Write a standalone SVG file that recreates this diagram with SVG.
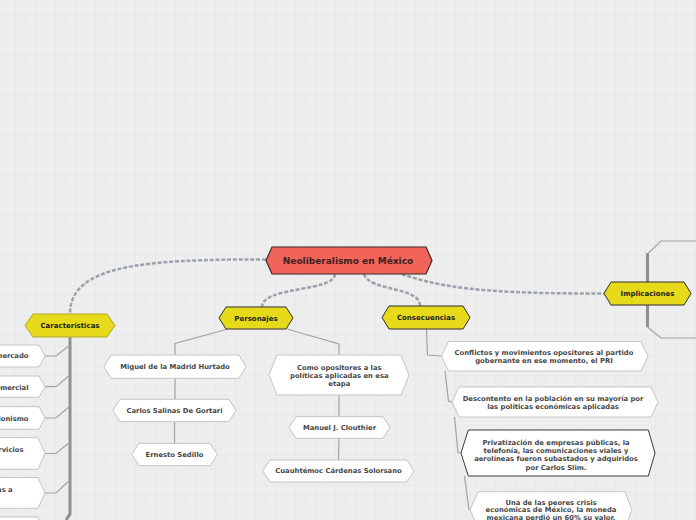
<svg xmlns="http://www.w3.org/2000/svg" width="696" height="520" viewBox="0 0 696 520">
<defs>
<pattern id="grid" width="10" height="10" patternUnits="userSpaceOnUse" x="5" y="5">
<path d="M0,0 H10 M0,0 V10" fill="none" stroke="#e3e3e3" stroke-width="1"/>
</pattern>
</defs>
<style>
text{font-family:"DejaVu Sans","Verdana",sans-serif;font-weight:bold;}
.t{font-size:6.8px;fill:#474747;text-anchor:middle;}
.te{font-size:6.8px;fill:#474747;text-anchor:end;}
.h{font-size:7px;fill:#1e1e1e;text-anchor:middle;}
.w{fill:#ffffff;stroke:#c4c4c4;stroke-width:1;}
.wd{fill:#ffffff;stroke:#3a3a3a;stroke-width:1;}
.y{fill:#e6da1b;stroke:#2e2e2e;stroke-width:1;}
.yl{fill:#e6da1b;stroke:#b3aa22;stroke-width:1;}
.dash{fill:none;stroke:#9aa2ab;stroke-width:2.5;stroke-dasharray:4 1.8;}
.trunk{fill:none;stroke:#8f8f8f;stroke-width:3;}
.thin{fill:none;stroke:#a3a3a3;stroke-width:1.2;}
</style>
<rect width="696" height="520" fill="#eeeeee"/>
<rect width="696" height="520" fill="url(#grid)"/>

<g id="connectors">
<path class="dash" d="M266,259.5 C140,259 70,266 70,314"/>
<path class="dash" d="M335,274 C335,292 262,286 262,307"/>
<path class="dash" d="M364,274 C370,292 420,286 420,306"/>
<path class="dash" d="M402,274 C450,292 520,293.5 604,293.5"/>
<path class="trunk" d="M70,337 V514 L66,520"/>
<path class="thin" d="M70,345 L56,356 H45"/>
<path class="thin" d="M70,375 L56,386.7 H45"/>
<path class="thin" d="M70,406 L56,418 H45"/>
<path class="thin" d="M70,442 L56,453.5 H45"/>
<path class="thin" d="M70,480 L56,493 H45"/>
<path class="trunk" d="M647.5,253 V327"/>
<path class="thin" d="M647.5,254 L661,241 H696"/>
<path class="thin" d="M647.5,327 L661,338 H696"/>
<path class="thin" d="M228,329 L175,343.5 V355"/>
<path class="thin" d="M175,378.3 V399.3"/>
<path class="thin" d="M174.5,421.7 V443.3"/>
<path class="thin" d="M287,329 L339,344 V355"/>
<path class="thin" d="M339,395 V416.7"/>
<path class="thin" d="M339,438.3 L338.5,460"/>
<path class="thin" d="M426.5,329 L427.5,355 L441.5,356"/>
<path class="thin" d="M445,371 L448.5,401 L452,402"/>
<path class="thin" d="M454.5,417 L458,452.5 L461,453"/>
<path class="thin" d="M464.5,476 L469,509.5 L470,510"/>
</g>

<g id="root">
<polygon points="266,260.5 272,247 426,247 432,260.5 426,274 272,274" fill="#f2635a" stroke="#3b2a25" stroke-width="1.2"/>
<text x="348" y="263.7" style="font-size:9px;fill:#3a2220;text-anchor:middle;">Neoliberalismo en México</text>
</g>

<g id="caracteristicas">
<polygon class="yl" points="25,325.5 33,314 107,314 115,325.5 107,337 33,337"/>
<text class="h" x="70" y="328">Características</text>
</g>
<g id="personajes">
<polygon class="y" points="219,318 226,307 286,307 293,318 286,329 226,329"/>
<text class="h" x="256" y="320.5">Personajes</text>
</g>
<g id="consecuencias">
<polygon class="y" points="382,317.5 389,306 463,306 470,317.5 463,329 389,329"/>
<text class="h" x="426" y="320">Consecuencias</text>
</g>
<g id="implicaciones">
<polygon class="y" points="604,293.5 611,282 684,282 691,293.5 684,305 611,305"/>
<text class="h" x="647.5" y="296">Implicaciones</text>
</g>

<g id="c1">
<polygon class="w" points="-100,356 -94,345 39,345 45,356 39,367 -94,367"/>
<text class="te" x="28.5" y="358.2">mercado</text>
</g>
<g id="c2">
<polygon class="w" points="-100,386.7 -94,376 39,376 45,386.7 39,397.3 -94,397.3"/>
<text class="te" x="28.5" y="390">comercial</text>
</g>
<g id="c3">
<polygon class="w" points="-100,418 -94,406.7 39,406.7 45,418 39,429.3 -94,429.3"/>
<text class="te" x="28.5" y="421.2">proteccionismo</text>
</g>
<g id="c4">
<polygon class="w" points="-100,453.5 -93,437.7 38,437.7 45,453.5 38,469.3 -93,469.3"/>
<text class="te" x="23.5" y="451.7">servicios</text>
</g>
<g id="c5">
<polygon class="w" points="-100,493 -93,477.5 38,477.5 45,493 38,508.3 -93,508.3"/>
<text class="te" x="12.7" y="491.7">empresas a</text>
</g>
<g id="c6">
<polygon class="w" points="-100,535 -93,517 38,517 45,535 38,553 -93,553"/>
</g>

<g id="miguel">
<polygon class="w" points="104,366.7 111,355 239,355 246,366.7 239,378.3 111,378.3"/>
<text class="t" x="175" y="369.1">Miguel de la Madrid Hurtado</text>
</g>
<g id="carlos">
<polygon class="w" points="113,410.5 120,399.3 229,399.3 236,410.5 229,421.7 120,421.7"/>
<text class="t" x="174.5" y="412.9">Carlos Salinas De Gortari</text>
</g>
<g id="ernesto">
<polygon class="w" points="131.7,454.5 139,443.3 210,443.3 217.3,454.5 210,465.7 139,465.7"/>
<text class="t" x="174.5" y="456.9">Ernesto Sedillo</text>
</g>
<g id="opositores">
<polygon class="w" points="269,375 277,355 401,355 409,375 401,395 277,395"/>
<text class="t" x="339.3" y="370">Como opositores a las</text>
<text class="t" x="339.3" y="378.2">políticas aplicadas en esa</text>
<text class="t" x="339.3" y="386.4">etapa</text>
</g>
<g id="manuel">
<polygon class="w" points="289,427.5 296,416.7 383,416.7 390,427.5 383,438.3 296,438.3"/>
<text class="t" x="339.5" y="429.9">Manuel J. Clouthier</text>
</g>
<g id="cuauhtemoc">
<polygon class="w" points="262.7,471 270,460 407,460 414,471 407,482 270,482"/>
<text class="t" x="338.5" y="473.4">Cuauhtémoc Cárdenas Solorsano</text>
</g>

<g id="conflictos">
<polygon class="w" points="441.5,356.3 448.5,341.5 641,341.5 648,356.3 641,371 448.5,371"/>
<text class="t" x="544" y="355">Conflictos y movimientos opositores al partido</text>
<text class="t" x="544" y="363.3">gobernante en ese momento, el PRI</text>
</g>
<g id="descontento">
<polygon class="w" points="452,402 459,387 651,387 658,402 651,417 459,417"/>
<text class="t" x="553" y="400.7">Descontento en la población en su mayoría por</text>
<text class="t" x="553" y="408.6">las políticas económicas aplicadas</text>
</g>
<g id="privatizacion">
<polygon class="wd" points="461,453 468.3,430 648.3,430 655,453 648.3,476 468.3,476"/>
<text class="t" x="556" y="444.7">Privatización de empresas públicas, la</text>
<text class="t" x="556" y="453">telefonía, las comunicaciones viales y</text>
<text class="t" x="556" y="461.3">aerolíneas fueron subastados y adquiridos</text>
<text class="t" x="556" y="469.5">por Carlos Slim.</text>
</g>
<g id="crisis">
<polygon class="w" points="470,510 478,491.7 625,491.7 632,510 625,528.3 478,528.3"/>
<text class="t" x="551" y="504.7">Una de las peores crisis</text>
<text class="t" x="551" y="512.4">económicas de México, la moneda</text>
<text class="t" x="551" y="520">mexicana perdió un 60% su valor.</text>
</g>
</svg>
